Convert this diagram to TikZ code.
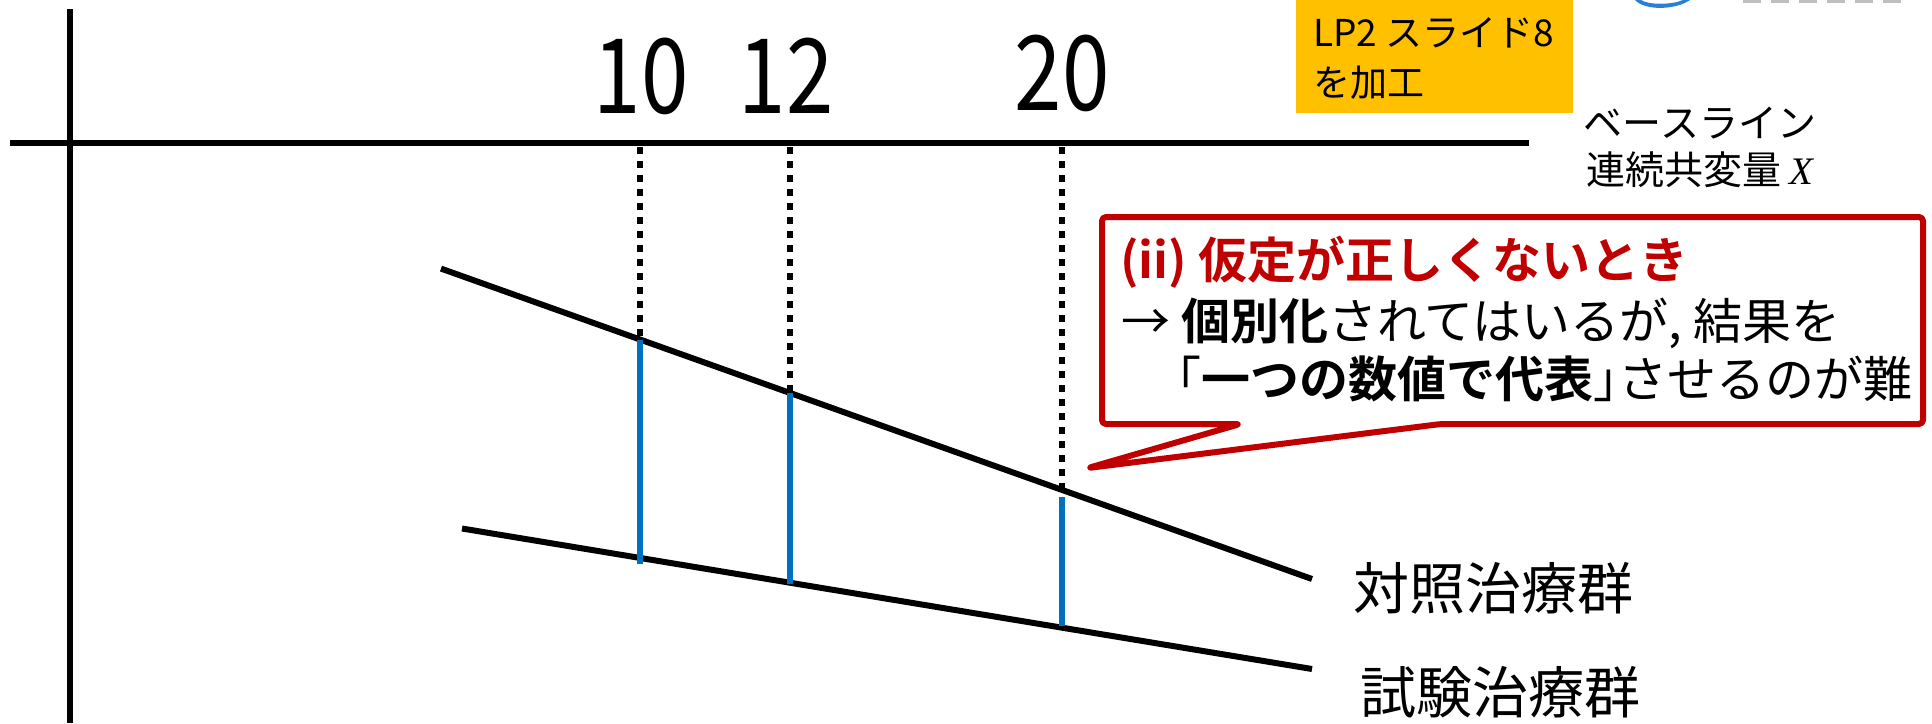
\documentclass[tikz,border=0pt]{standalone}
\usepackage{fontspec}
\setmainfont{Noto Sans CJK JP}
\newfontfamily\jpbold{Noto Sans CJK JP Bold}
\newfontfamily\jphalt{Noto Sans CJK JP}[RawFeature=+halt]
\newfontfamily\serifx{Liberation Serif}
\definecolor{axisblue}{HTML}{0070C0}
\definecolor{callred}{HTML}{C00000}
\definecolor{tagorange}{HTML}{FFC000}
\definecolor{logoblue}{HTML}{2A7FD0}
\begin{document}
\begin{tikzpicture}[x=0.5pt,y=-0.5pt,
  axisline/.style={line width=3pt,black},
  trendline/.style={line width=3pt,black},
  guideline/.style={line width=3pt,black,dash pattern=on 3.5pt off 3.5pt},
  gapline/.style={line width=2.6pt,axisblue},
  numlbl/.style={font=\fontsize{52pt}{56pt}\selectfont,inner sep=0pt,anchor=base},
  grplbl/.style={font=\fontsize{28pt}{34pt}\selectfont,inner sep=0pt,anchor=west},
  axlbl/.style={font=\fontsize{19.5pt}{24pt}\selectfont,inner sep=0pt},
  tagtxt/.style={font=\fontsize{18.5pt}{22pt}\selectfont,inner sep=0pt,anchor=west},
  calltxt/.style={font=\fontsize{24.5pt}{30pt}\selectfont,inner sep=0pt,anchor=west},
  callbox/.style={line width=3pt,callred,fill=white,rounded corners=2pt,line join=round}]
\useasboundingbox (0,0) rectangle (1932,723);

% partial logo at top edge
\begin{scope}
\clip (0,0) rectangle (1932,723);
\fill[logoblue] (1635,0) .. controls (1645,11) and (1676,10) .. (1690,0) -- (1683,0) .. controls (1672,5) and (1648,5) .. (1641,0) -- cycle;
\draw[gray!50,line width=1.5pt,dash pattern=on 9pt off 5pt] (1743,1) -- (1903,1);
\end{scope}

% axes
\coordinate (ytop) at (70,9);
\coordinate (ybot) at (70,723);
\coordinate (xl) at (10,143);
\coordinate (xr) at (1529,143);
\draw[axisline] (ytop) -- (ybot);
\draw[axisline] (xl) -- (xr);

% tick values
\node[numlbl] (n10) at (641,113) {\scalebox{0.82}[1]{10}};
\node[numlbl] (n12) at (786,113) {\scalebox{0.82}[1]{12}};
\node[numlbl] (n20) at (1062,110) {\scalebox{0.82}[1]{20}};

% trend lines
\coordinate (c1) at (441,268.6);
\coordinate (c2) at (1312,579);
\coordinate (t1) at (462,528.5);
\coordinate (t2) at (1312,669);
\draw[trendline] (c1) -- (c2);
\draw[trendline] (t1) -- (t2);

% guide coordinates
\coordinate (g10) at (640,147);
\coordinate (g12) at (790,147);
\coordinate (g20) at (1062,147);
\coordinate (u10) at (640,339.5);
\coordinate (u12) at (790,393);
\coordinate (u20) at (1062,489.9);
\coordinate (b10t) at (640,340);
\coordinate (b10b) at (640,564);
\coordinate (b12t) at (790,393);
\coordinate (b12b) at (790,584);
\coordinate (b20t) at (1062,497);
\coordinate (b20b) at (1062,626);

\draw[guideline] (g10) -- (u10);
\draw[guideline] (g12) -- (u12);
\draw[guideline] (g20) -- (u20);
\draw[gapline] (b10t) -- (b10b);
\draw[gapline] (b12t) -- (b12b);
\draw[gapline] (b20t) -- (b20b);

% group labels
\node[grplbl] (ctrl) at (1353,588) {対照治療群};
\node[grplbl] (test) at (1360,692) {試験治療群};

% axis label
\node[axlbl] (bl1) at (1700,123) {ベースライン};
\node[axlbl] (bl2) at (1700,170) {連続共変量 {\serifx\itshape X}};

% orange tag
\node[fill=tagorange,minimum width=138.5pt,minimum height=56.5pt,inner sep=0pt,anchor=north west] (tag) at (1296,0) {};
\node[tagtxt] (tag1) at (1313,33) {LP2 スライド8};
\node[tagtxt] (tag2) at (1313,83) {を加工};

% callout
\coordinate (tip) at (1088,468);
\draw[callbox] (1102,217) -- (1923,217) -- (1923,424) -- (1441,424) -- (tip) -- (1240,424) -- (1102,424) -- cycle;
\node[calltxt,text=callred] (cl1) at (1120,262) {\jpbold (ii) 仮定が正しくないとき};
\node[calltxt] (cl2) at (1121,323) {→ {\jpbold 個別化}されてはいるが, 結果を};
\node[calltxt] (cl3) at (1177,379) {{\jphalt 「}{\jpbold 一つの数値で代表}{\jphalt 」}させるのが難};
\end{tikzpicture}
\end{document}
